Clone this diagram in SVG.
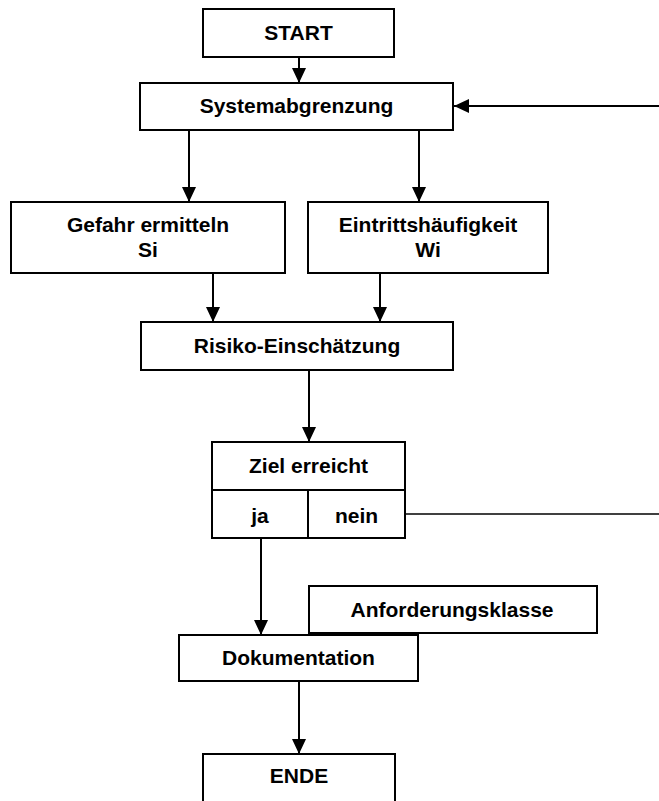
<svg xmlns="http://www.w3.org/2000/svg" width="659" height="801" viewBox="0 0 659 801">
  <style>
    .box { fill: #ffffff; stroke: #000000; stroke-width: 2; }
    .lbl { font-family: "Liberation Sans", Arial, sans-serif; font-weight: bold; font-size: 21px; fill: #000000; text-anchor: middle; }
    .conn { stroke: #000000; stroke-width: 2; fill: none; }
    .thin { stroke: #000000; stroke-width: 1.3; fill: none; }
  </style>
  <defs>
    <marker id="arr" viewBox="0 0 15 14" refX="15" refY="7" markerWidth="15" markerHeight="14" orient="auto" markerUnits="userSpaceOnUse">
      <path d="M0,0 L15,7 L0,14 Z" fill="#000000"/>
    </marker>
  </defs>
  <rect width="659" height="801" fill="#ffffff"/>

  <g id="connectors">
    <line class="conn" x1="299" y1="57" x2="299" y2="83" marker-end="url(#arr)"/>
    <line class="conn" x1="189" y1="130" x2="189" y2="202" marker-end="url(#arr)"/>
    <line class="conn" x1="419" y1="130" x2="419" y2="202" marker-end="url(#arr)"/>
    <line class="conn" x1="213" y1="273" x2="213" y2="322" marker-end="url(#arr)"/>
    <line class="conn" x1="380" y1="273" x2="380" y2="322" marker-end="url(#arr)"/>
    <line class="conn" x1="309" y1="370" x2="309" y2="442" marker-end="url(#arr)"/>
    <line class="conn" x1="261" y1="538" x2="261" y2="635" marker-end="url(#arr)"/>
    <line class="conn" x1="299" y1="681" x2="299" y2="754" marker-end="url(#arr)"/>
    <line class="conn" x1="659" y1="106" x2="454" y2="106" marker-end="url(#arr)"/>
    <line class="thin" x1="405" y1="514" x2="659" y2="514"/>
  </g>

  <g id="start">
    <rect class="box" x="203" y="9" width="191" height="48"/>
    <text class="lbl" x="298.5" y="40">START</text>
  </g>

  <g id="systemabgrenzung">
    <rect class="box" x="140" y="83" width="313" height="47"/>
    <text class="lbl" x="296.5" y="113">Systemabgrenzung</text>
  </g>

  <g id="gefahr">
    <rect class="box" x="11" y="202" width="274" height="71"/>
    <text class="lbl" x="148" y="232">Gefahr ermitteln</text>
    <text class="lbl" x="148" y="257">Si</text>
  </g>

  <g id="eintritt">
    <rect class="box" x="308" y="202" width="240" height="71"/>
    <text class="lbl" x="428" y="232">Eintrittshäufigkeit</text>
    <text class="lbl" x="428" y="257">Wi</text>
  </g>

  <g id="risiko">
    <rect class="box" x="141" y="322" width="312" height="48"/>
    <text class="lbl" x="297" y="353">Risiko-Einschätzung</text>
  </g>

  <g id="ziel">
    <rect class="box" x="212" y="442" width="193" height="96"/>
    <line class="conn" x1="212" y1="490" x2="405" y2="490"/>
    <line class="conn" x1="308" y1="490" x2="308" y2="538"/>
    <text class="lbl" x="308.5" y="473">Ziel erreicht</text>
    <text class="lbl" x="260" y="523">ja</text>
    <text class="lbl" x="356.5" y="523">nein</text>
  </g>

  <g id="anforderungsklasse">
    <rect class="box" x="309" y="586" width="288" height="47"/>
    <text class="lbl" x="452" y="617">Anforderungsklasse</text>
  </g>

  <g id="dokumentation">
    <rect class="box" x="179" y="635" width="239" height="46"/>
    <text class="lbl" x="298.5" y="665">Dokumentation</text>
  </g>

  <g id="ende">
    <rect class="box" x="203" y="754" width="192" height="60"/>
    <text class="lbl" x="299" y="783">ENDE</text>
  </g>
</svg>
